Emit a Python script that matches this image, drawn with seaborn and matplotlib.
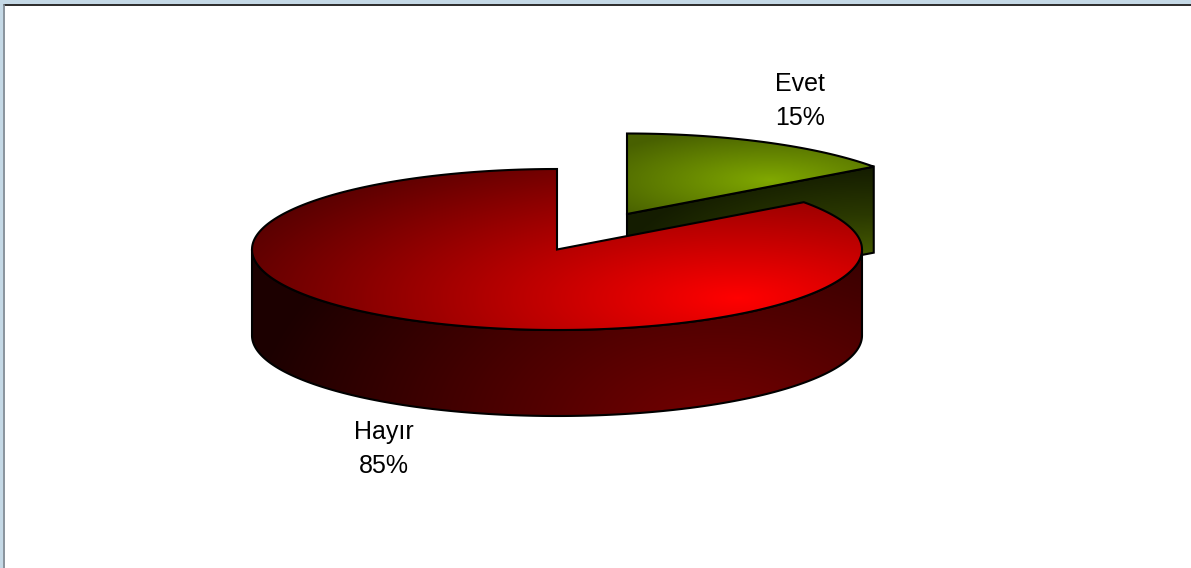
import numpy as np
import matplotlib
matplotlib.use("Agg")
import matplotlib.pyplot as plt
from matplotlib.patches import Polygon, Rectangle
import seaborn as sns

labels = ["Evet", "Hayır"]
shares = [15, 85]
label_xy = [(800, 101), (384, 449)]

sns.set_theme(style="white")
plt.rcParams["font.family"] = ["Liberation Sans", "DejaVu Sans"]

W, H = 1191, 568
RX, RY, DEPTH = 305, 80.5, 86
RED_C = (557, 249.5)
GREEN_C = (627, 214)

sweep = np.cumsum([0] + shares) / sum(shares) * 2 * np.pi
cut = sweep[1]

fig = plt.figure(figsize=(W / 100, H / 100), dpi=100)
ax = fig.add_axes([0, 0, 1, 1])
ax.set_xlim(0, W)
ax.set_ylim(H, 0)
ax.axis("off")

xx, yy = np.meshgrid(np.arange(W) + .5, np.arange(H) + .5)


def rim(c, a0, a1, n=300, dy=0):
    t = np.linspace(a0, a1, n)
    return np.c_[c[0] + RX * np.sin(t), c[1] - RY * np.cos(t) + dy]


def fill(poly, field, colors, z):
    cmap = sns.blend_palette(colors, as_cmap=True)
    im = ax.imshow(np.clip(field, 0, 1), extent=(0, W, H, 0), cmap=cmap,
                   vmin=0, vmax=1, zorder=z, aspect="auto", interpolation="bilinear")
    patch = Polygon(poly, closed=True, fc="none", ec="black", lw=1.5, zorder=z + .5,
                    joinstyle="miter")
    ax.add_patch(patch)
    im.set_clip_path(patch)


# --- Evet: cut face, then top
gc = GREEN_C
end = rim(gc, cut, cut, 1)[0]
face = [gc, tuple(end), (end[0], end[1] + DEPTH), (gc[0], gc[1] + DEPTH)]
fill(face, 1 - np.sqrt(((xx - 873) / 250) ** 2 + ((yy - 262) / 95) ** 2),
     ["#141c00", "#2a3800", "#4a6000"], 1)
fill(np.r_[[gc], rim(gc, 0, cut)],
     1 - np.sqrt(((xx - 770) / 190) ** 2 + ((yy - 180) / 52) ** 2),
     ["#486000", "#80a800"], 2)

# --- Hayır: side wall, then top
rc = RED_C
front = rim(rc, np.pi / 2, 3 * np.pi / 2)
wall = np.r_[front, rim(rc, 3 * np.pi / 2, np.pi / 2, dy=DEPTH)]
fill(wall, 1 - np.sqrt(((xx - 720) / 470) ** 2 + ((yy - 430) / 283) ** 2),
     ["#1c0000", "#760000"], 3)
d = np.sqrt(((xx - 738) / 560) ** 2 + ((yy - 298) / 175) ** 2)
fill(np.r_[[rc], rim(rc, cut, 2 * np.pi)], 1 - d, ["#500000", "#ff0000"], 4)

# --- Slide frame
ax.add_patch(Rectangle((0, 0), W, 4, fc="#c5d9e6", ec="none", zorder=6))
ax.add_patch(Rectangle((0, 0), 3, H, fc="#c5d9e6", ec="none", zorder=6))
ax.plot([W, 4], [5, 5], color="#1a1a1a", lw=1.3, zorder=7)
ax.plot([4, 4], [5, H], color="#7f8a94", lw=1.3, zorder=7)

for lab, share, (x, y) in zip(labels, shares, label_xy):
    ax.text(x, y, f"{lab}\n{share}%", ha="center", va="center", fontsize=18,
            color="black", linespacing=1.49, zorder=8)

fig.savefig("out.png", dpi=100)
